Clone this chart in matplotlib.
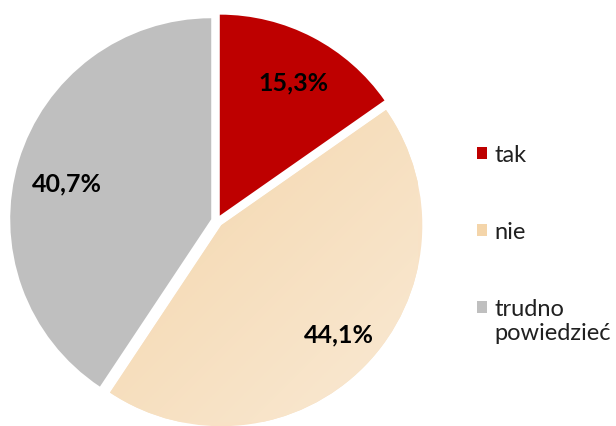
import matplotlib
matplotlib.use("Agg")
from matplotlib import pyplot as plt
import numpy as np

plt.rcParams['font.family'] = ['Lato', 'DejaVu Sans']

categories = ['tak', 'nie', 'trudno']
second_line = 'powiedzieć'
values = [15.3, 44.1, 40.7]
labels_pct = ['15,3%', '44,1%', '40,7%']
colors = ['#BE0000', '#F4D5AA', '#BFBFBF']

fig = plt.figure(figsize=(6.16, 4.27), dpi=100)
# pie axes: centre ~(217, 222) px from top-left, radius ~201 px
r_px = 201
cx, cy = 217, 222
ax = fig.add_axes([(cx - r_px) / 616, (427 - cy - r_px) / 427, 2 * r_px / 616, 2 * r_px / 427])

wedges, texts = ax.pie(values, colors=colors, startangle=90, counterclock=False,
                       explode=[0.03, 0.03, 0.03], radius=1.0,
                       wedgeprops=dict(linewidth=0))

# percentage labels
label_pos = [(0.38, 0.69), (0.605, -0.56), (-0.745, 0.19)]
for (lx, ly), txt in zip(label_pos, labels_pct):
    ax.text(lx, ly, txt, ha='center', va='center', fontsize=18, fontweight='bold',
            color='black', zorder=10)

leg = fig.legend(wedges, categories, loc='upper left', bbox_to_anchor=(0.74, 0.71),
                 frameon=False, fontsize=17, handlelength=0.4, handleheight=0.4,
                 handletextpad=0.35, labelspacing=2.38, labelcolor='#202020')
for h in leg.legend_handles:
    h.set_linewidth(0)

# gradient on the "nie" wedge (light beige, lighter towards bottom right)
c1 = np.array([243, 211, 166]) / 255
c2 = np.array([250, 235, 215]) / 255
n = 200
gx, gy = np.meshgrid(np.linspace(0, 1, n), np.linspace(0, 1, n))
t = np.clip((gx + gy) / 2, 0, 1)
img = c1[None, None, :] * (1 - t[..., None]) + c2[None, None, :] * t[..., None]
im = ax.imshow(img, extent=[-0.7, 1.1, -1.1, 0.7], origin='upper', zorder=wedges[1].get_zorder() + 0.1)
im.set_clip_path(wedges[1])
wedges[1].set_facecolor((248 / 255, 226 / 255, 198 / 255))
ax.set_xlim(-1, 1)
ax.set_ylim(-1, 1)
ax.set_aspect('equal')
ax.axis('off')

# second line of the last legend entry, under "trudno"
fig.canvas.draw()
bb = leg.get_texts()[2].get_window_extent()
fig.text(bb.x0 / 616, (bb.y0 - 24) / 427, second_line, ha='left', va='bottom',
         fontsize=17, color='#202020')

plt.savefig("out.png", dpi=100)
